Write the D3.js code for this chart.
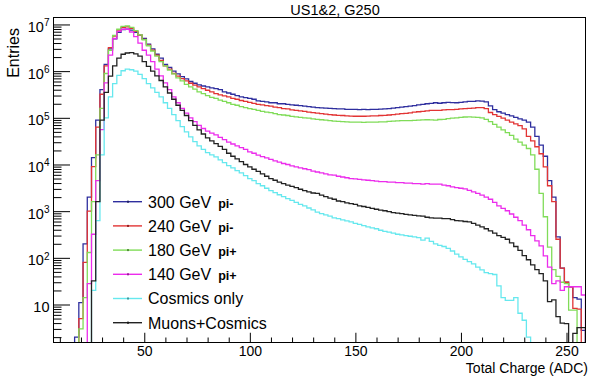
<!DOCTYPE html>
<html><head><meta charset="utf-8">
<script src="https://cdn.jsdelivr.net/npm/d3@7"></script>
<style>
body{margin:0;background:#fff}
svg{display:block}
text{font-family:"Liberation Sans",Arial,Helvetica,sans-serif;fill:#000}
</style>
</head><body>
<svg id="c" width="593" height="379"></svg>
<script>
// ---- data: histogram, 2-ADC bins starting at 7 (bin centres 8..258) ----
const binStart = 7, binWidth = 2;
const chartTitle = "US1&2, G250";
const xTitle = "Total Charge (ADC)";
const yTitle = "Entries";
const seriesLabels = ["300 GeV", "240 GeV", "180 GeV", "140 GeV", "Cosmics only", "Muons+Cosmics"];
const seriesSuffix = ["pi-", "pi-", "pi+", "pi+", "", ""];
const seriesColors = ["#2e2e9e", "#e23434", "#80dc58", "#ec2cec", "#66e8ee", "#222222"];
const xTickValues = [50, 100, 150, 200, 250];
const yTickValues = [10, 100, 1e3, 1e4, 1e5, 1e6, 1e7];

const entries300 = [
0,0,0,0,0,2,11,200,2000,1.4e4,
8.9e4,4.0e5,1.4e6,3.0e6,4.9e6,6.8e6,7.8e6,7.9e6,7.6e6,6.8e6,
5.9e6,5.0e6,3.8e6,3.0e6,2.3e6,1.9e6,1.4e6,1.2e6,1.0e6,8.7e5,
7.6e5,6.8e5,6.0e5,5.5e5,5.1e5,4.8e5,4.6e5,4.4e5,4.2e5,4.0e5,
3.6e5,3.4e5,3.2e5,3.0e5,2.8e5,2.7e5,2.6e5,2.5e5,2.3e5,2.25e5,
2.2e5,2.1e5,2.1e5,2.0e5,2.0e5,1.95e5,1.9e5,1.86e5,1.82e5,1.78e5,
1.74e5,1.7e5,1.66e5,1.63e5,1.62e5,1.59e5,1.58e5,1.55e5,1.55e5,1.52e5,
1.51e5,1.51e5,1.5e5,1.51e5,1.5e5,1.51e5,1.52e5,1.54e5,1.55e5,1.58e5,
1.62e5,1.66e5,1.7e5,1.74e5,1.78e5,1.82e5,1.9e5,1.95e5,2.0e5,2.04e5,
2.1e5,2.05e5,2.1e5,2.14e5,2.12e5,2.1e5,2.14e5,2.2e5,2.24e5,2.25e5,
2.3e5,2.28e5,2.2e5,1.8e5,1.5e5,1.35e5,1.26e5,1.17e5,1.1e5,1.02e5,
9.5e4,8.9e4,8.1e4,6.3e4,4.0e4,2.6e4,1.5e4,4500,2000,280,
60,30,24,14,13,2.8];

const entries240 = [
0,0,0,0,0,1,5,80,1000,9000,
6.3e4,3.2e5,1.3e6,3.2e6,5.6e6,7.6e6,8.7e6,8.9e6,8.3e6,7.1e6,
5.9e6,4.8e6,3.6e6,2.8e6,2.2e6,1.7e6,1.3e6,1.1e6,8.9e5,7.8e5,
6.9e5,6.2e5,5.5e5,5.0e5,4.6e5,4.2e5,3.9e5,3.6e5,3.3e5,3.1e5,
2.95e5,2.8e5,2.6e5,2.5e5,2.35e5,2.24e5,2.14e5,2.04e5,1.95e5,1.9e5,
1.82e5,1.78e5,1.7e5,1.66e5,1.58e5,1.55e5,1.48e5,1.45e5,1.41e5,1.38e5,
1.32e5,1.29e5,1.26e5,1.23e5,1.2e5,1.17e5,1.15e5,1.13e5,1.12e5,1.1e5,
1.09e5,1.08e5,1.08e5,1.08e5,1.09e5,1.1e5,1.1e5,1.12e5,1.13e5,1.15e5,
1.17e5,1.2e5,1.23e5,1.25e5,1.27e5,1.32e5,1.35e5,1.38e5,1.41e5,1.45e5,
1.44e5,1.45e5,1.48e5,1.5e5,1.5e5,1.52e5,1.55e5,1.58e5,1.6e5,1.62e5,
1.66e5,1.66e5,1.58e5,1.3e5,1.17e5,1.07e5,9.8e4,8.9e4,8.1e4,7.4e4,
6.8e4,5.8e4,4.0e4,3.2e4,2.4e4,1.7e4,8900,3500,1600,250,
60,30,24,8.3,8,0];

const entries180 = [
0,0,0,0,0,0,3,14,130,1600,
1.6e4,1.6e5,8.9e5,2.8e6,5.8e6,7.9e6,9.1e6,9.3e6,8.7e6,7.4e6,
6.0e6,4.7e6,3.5e6,2.7e6,2.1e6,1.6e6,1.3e6,1.05e6,8.7e5,7.2e5,
6.2e5,5.2e5,4.6e5,4.1e5,3.6e5,3.3e5,3.0e5,2.75e5,2.6e5,2.4e5,
2.24e5,2.1e5,1.95e5,1.86e5,1.74e5,1.66e5,1.58e5,1.51e5,1.45e5,1.38e5,
1.32e5,1.29e5,1.23e5,1.17e5,1.15e5,1.12e5,1.07e5,1.05e5,1.02e5,1.0e5,
9.8e4,9.5e4,9.3e4,9.1e4,8.9e4,8.7e4,8.5e4,8.4e4,8.3e4,8.2e4,
8.1e4,8.1e4,8.1e4,8.0e4,8.1e4,8.1e4,8.1e4,8.2e4,8.2e4,8.4e4,
8.5e4,8.6e4,8.7e4,8.7e4,8.7e4,8.8e4,8.9e4,9.0e4,9.1e4,9.0e4,
8.9e4,9.2e4,9.3e4,9.6e4,9.8e4,1.0e5,1.02e5,1.04e5,1.05e5,1.03e5,
1.02e5,1.0e5,9.3e4,8.3e4,7.2e4,6.3e4,5.5e4,4.8e4,4.2e4,3.5e4,
3.0e4,2.6e4,2.2e4,1.6e4,7900,2400,760,170,56,40,
30,28,7.6,7.6,0,0];

const entries140 = [
0,0,0,0,0,0,0,0,28,320,
4500,5.6e4,5.6e5,2.2e6,5.0e6,7.1e6,7.9e6,7.9e6,6.9e6,5.5e6,
4.0e6,2.8e6,2.2e6,1.6e6,1.1e6,7.9e5,5.6e5,4.0e5,2.8e5,2.1e5,
1.6e5,1.26e5,1.0e5,8.3e4,6.9e4,5.9e4,5.2e4,4.7e4,4.3e4,3.8e4,
3.4e4,3.0e4,2.75e4,2.5e4,2.3e4,2.1e4,1.86e4,1.74e4,1.58e4,1.48e4,
1.38e4,1.29e4,1.2e4,1.12e4,1.05e4,1.0e4,9300,8900,8500,8100,
7800,7200,6900,6600,6300,6000,5900,5600,5400,5200,
5000,4900,4800,4700,4600,4500,4400,4300,4300,4200,
4200,4100,4100,4000,4000,3900,3900,3800,3900,3800,
3800,3800,3600,3500,3300,3200,3100,3000,2800,2600,
2400,2200,2000,1800,1550,1300,1150,1020,870,740,
630,500,400,300,230,180,110,63,28,32,
20,24,24,24,24,16];

const entriesCosmics = [
0,0,0,0,0,0,0,0,0,20,
630,1.6e4,1.0e5,2.8e5,5.4e5,8.1e5,1.02e6,1.1e6,1.07e6,1.0e6,
8.5e5,6.9e5,5.4e5,4.4e5,3.5e5,2.8e5,2.1e5,1.6e5,1.17e5,8.7e4,
6.5e4,5.0e4,3.9e4,3.1e4,2.5e4,2.1e4,1.8e4,1.6e4,1.45e4,1.26e4,
1.1e4,9500,8500,7400,6600,5800,5000,4500,3900,3500,
3100,2750,2500,2250,2050,1850,1700,1550,1400,1300,
1170,1070,950,890,830,780,720,690,650,620,
590,550,520,490,460,440,420,390,370,355,
340,320,310,300,290,280,270,240,265,225,
200,185,175,160,140,120,105,93,83,74,
63,55,48,46,44,25,14,12.3,12.3,14,
6.5,4.6,2.0,0,0,0,0,0,0,0,
0,0,0,0,0,0];

const entriesMuons = [
0,0,0,0,0,0,0,0,0,32,
1600,8.9e4,3.5e5,7.8e5,1.3e6,1.9e6,2.3e6,2.45e6,2.5e6,2.35e6,
2.1e6,1.6e6,1.26e6,1.0e6,7.9e5,6.3e5,4.6e5,3.4e5,2.5e5,1.86e5,
1.45e5,1.12e5,8.7e4,6.9e4,5.5e4,4.5e4,3.7e4,3.2e4,2.8e4,2.45e4,
2.1e4,1.74e4,1.5e4,1.32e4,1.15e4,1.0e4,8900,7900,7100,6300,
5600,5000,4600,4200,3900,3600,3400,3200,2950,2750,
2600,2450,2400,2200,2050,1900,1800,1650,1600,1500,
1450,1400,1300,1260,1200,1150,1100,1050,1020,980,
930,910,890,850,830,810,790,780,740,720,
710,710,690,690,660,630,620,600,590,550,
500,460,420,380,340,300,275,250,210,175,
145,112,91,71,56,46,32,11.5,12.6,5.5,
4.0,3.9,1,2.4,3.2,3.2];

const allSeries = [entries300, entries240, entries180, entries140, entriesCosmics, entriesMuons];

// ---- layout ----
const svg = d3.select("#c");
const P = {l: 53.5, r: 585.5, t: 17.5, b: 342.5};
const x = d3.scaleLinear().domain([7, 259]).range([P.l, P.r]);
const y = d3.scaleLog().domain([1.535, 1.41e7]).range([P.b, P.t]);

svg.append("rect").attr("width", 593).attr("height", 379).attr("fill", "#fff");
svg.append("defs").append("clipPath").attr("id", "clip")
  .append("rect").attr("x", P.l).attr("y", P.t).attr("width", P.r - P.l).attr("height", P.b - P.t);

function stepPoints(vals) {
  const yy = v => (v > y.domain()[0] ? y(v) : P.b + 2);
  const pts = [[x(binStart), P.b + 2]];
  vals.forEach((v, i) => {
    const x0 = x(binStart + i * binWidth), x1 = x(binStart + (i + 1) * binWidth);
    pts.push([x0, yy(v)], [x1, yy(v)]);
  });
  pts.push([x(binStart + vals.length * binWidth), P.b + 2]);
  return pts;
}
const line = d3.line();
const gH = svg.append("g").attr("clip-path", "url(#clip)");
gH.selectAll("path").data(allSeries).join("path")
  .attr("d", d => line(stepPoints(d)))
  .attr("fill", "none")
  .attr("stroke", (d, i) => seriesColors[i])
  .attr("stroke-width", 1.3)
  .attr("stroke-linejoin", "miter");

// ---- axes ----
const yMinor = [];
for (let e = 0; e <= 7; e++) for (let k = 2; k <= 9; k++) {
  const v = k * Math.pow(10, e);
  if (v > y.domain()[0] && v < y.domain()[1]) yMinor.push(v);
}
const gYm = svg.append("g").attr("transform", `translate(${P.l},0)`)
  .call(d3.axisLeft(y).tickValues(yMinor).tickSizeInner(-8).tickSizeOuter(0).tickFormat(() => ""));
gYm.select(".domain").remove();

const gY = svg.append("g").attr("transform", `translate(${P.l},0)`)
  .call(d3.axisLeft(y).tickValues(yTickValues).tickSizeInner(-16.5).tickSizeOuter(0).tickPadding(4));
gY.select(".domain").remove();
gY.selectAll(".tick text").each(function (d) {
  const t = d3.select(this);
  const ex = Math.round(Math.log10(d));
  t.text(null).attr("font-size", 14.5).attr("dy", "0.48em")
   .style("font-family", "'Liberation Sans',Arial,sans-serif");
  t.append("tspan").text("10");
  if (ex > 1) t.append("tspan").attr("font-size", 10).attr("dy", -5.5).text(ex);
});

const xMinor = d3.range(10, 260, 10).filter(v => v % 50 !== 0);
const gXm = svg.append("g").attr("transform", `translate(0,${P.b})`)
  .call(d3.axisBottom(x).tickValues(xMinor).tickSizeInner(-5).tickSizeOuter(0).tickFormat(() => ""));
gXm.select(".domain").remove();
const gX = svg.append("g").attr("transform", `translate(0,${P.b})`)
  .call(d3.axisBottom(x).tickValues(xTickValues).tickSizeInner(-9.75).tickSizeOuter(0).tickPadding(4));
gX.select(".domain").remove();
gX.selectAll(".tick text").attr("font-size", 14)
  .style("font-family", "'Liberation Sans',Arial,sans-serif");

svg.selectAll(".tick line").attr("stroke", "#000").attr("stroke-width", 1);

svg.append("rect").attr("x", P.l).attr("y", P.t).attr("width", P.r - P.l).attr("height", P.b - P.t)
  .attr("fill", "none").attr("stroke", "#000").attr("stroke-width", 1);

// ---- titles ----
svg.append("text").attr("x", 335).attr("y", 15).attr("text-anchor", "middle")
  .attr("font-size", 14.5).text(chartTitle);
svg.append("text").attr("transform", "translate(18.5,28) rotate(-90)").attr("text-anchor", "end")
  .attr("font-size", 16).text(yTitle);
svg.append("text").attr("x", 588).attr("y", 373).attr("text-anchor", "end")
  .attr("font-size", 14).text(xTitle);

// ---- legend ----
const lg = svg.append("g");
seriesLabels.forEach((lab, i) => {
  const cy = 201.7 + i * 24.2;
  lg.append("line").attr("x1", 113).attr("x2", 142).attr("y1", cy).attr("y2", cy)
    .attr("stroke", seriesColors[i]).attr("stroke-width", 1.4);
  lg.append("rect").attr("x", 127).attr("y", cy - 1).attr("width", 2).attr("height", 2)
    .attr("fill", d3.color(seriesColors[i]).darker(1.2));
  const t = lg.append("text").attr("x", 148).attr("y", cy + 5.8).attr("font-size", 16).text(lab);
  if (seriesSuffix[i]) t.append("tspan").attr("dx", 7).attr("font-size", 12.5)
    .attr("font-weight", "bold").text(seriesSuffix[i]);
});
</script>
</body></html>
